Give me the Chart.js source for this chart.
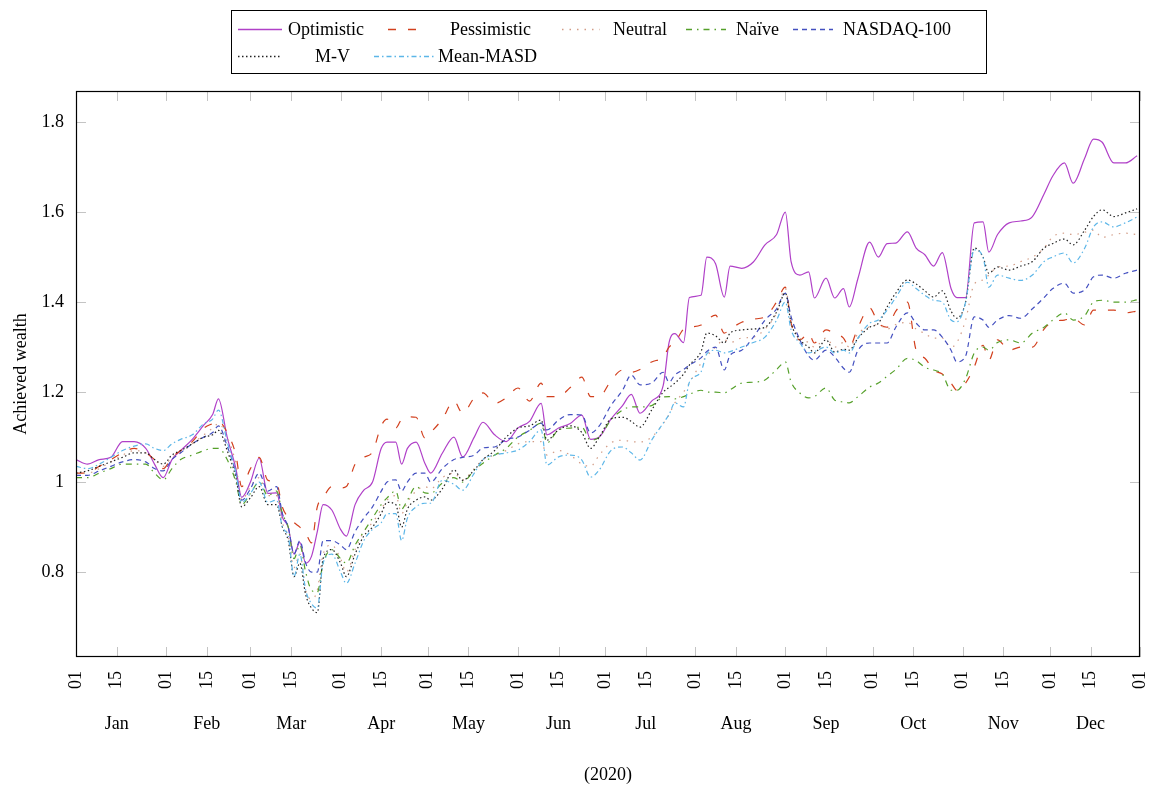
<!DOCTYPE html>
<html>
<head>
<meta charset="utf-8">
<title>Achieved wealth 2020</title>
<script src="https://cdn.jsdelivr.net/npm/chart.js@4"></script>
<style>
  body { margin: 0; background: #fff; }
  #wrap { position: relative; width: 1151px; height: 789px; }
</style>
</head>
<body>
<div id="wrap"><canvas id="wealth"></canvas></div>
<script>
// day of year (0 = Jan 01 2020)
var days = [0,4,8,12,16,20,24,27,30,33,
  36,40,44,47,49,52,55,57,60,63,
  66,69,71,73,75,77,79,81,83,85,
  88,91,93,96,99,102,105,107,110,112,
  114,117,120,122,126,130,133,137,140,144,
  148,152,156,160,162,166,170,174,177,180,
  184,188,191,194,198,202,204,206,209,211,
  215,217,220,223,225,229,233,237,241,244,
  246,249,252,254,258,261,264,266,269,273,
  276,279,282,286,289,292,295,298,301,303,
  306,309,312,314,317,321,325,329,333,336,
  340,343,347,350,353,357,361,365];

var optimistic = [1.05,1.04,1.05,1.055,1.09,1.09,1.075,1.04,1.01,1.05,
  1.07,1.095,1.127,1.15,1.185,1.10,1.03,0.966,1.00,1.053,
  0.975,0.976,0.922,0.90,0.84,0.866,0.82,0.835,0.89,0.95,
  0.938,0.895,0.88,0.95,0.982,1.00,1.075,1.089,1.089,1.04,
  1.075,1.089,1.042,1.02,1.064,1.10,1.056,1.10,1.133,1.105,
  1.09,1.12,1.135,1.175,1.105,1.12,1.13,1.149,1.095,1.10,
  1.14,1.17,1.195,1.153,1.18,1.215,1.31,1.33,1.31,1.41,
  1.415,1.50,1.485,1.411,1.48,1.475,1.489,1.527,1.55,1.60,
  1.489,1.46,1.467,1.409,1.453,1.409,1.43,1.389,1.453,1.533,
  1.50,1.53,1.531,1.556,1.52,1.505,1.48,1.51,1.43,1.41,
  1.41,1.576,1.578,1.511,1.55,1.576,1.58,1.59,1.64,1.68,
  1.709,1.664,1.72,1.762,1.755,1.709,1.709,1.725];

var pessimistic = [1.02,1.02,1.035,1.05,1.065,1.075,1.065,1.05,1.03,1.055,
  1.07,1.09,1.12,1.13,1.135,1.11,1.06,0.99,1.03,1.055,
  1.004,0.998,0.944,0.922,0.91,0.90,0.887,0.865,0.945,0.965,
  0.99,0.987,0.99,1.04,1.055,1.067,1.125,1.14,1.12,1.14,
  1.145,1.144,1.098,1.11,1.14,1.18,1.153,1.187,1.198,1.175,
  1.187,1.209,1.18,1.22,1.19,1.19,1.21,1.233,1.19,1.19,
  1.225,1.249,1.244,1.25,1.267,1.278,1.30,1.31,1.34,1.344,
  1.349,1.36,1.371,1.331,1.34,1.355,1.362,1.367,1.40,1.433,
  1.353,1.316,1.331,1.309,1.338,1.33,1.32,1.30,1.344,1.387,
  1.353,1.344,1.38,1.40,1.293,1.275,1.249,1.24,1.22,1.204,
  1.22,1.256,1.304,1.271,1.316,1.293,1.30,1.30,1.34,1.356,
  1.36,1.364,1.349,1.382,1.382,1.382,1.376,1.38];

var neutral = [1.02,1.02,1.03,1.045,1.06,1.07,1.065,1.05,1.035,1.055,
  1.065,1.085,1.105,1.12,1.13,1.10,1.04,0.96,0.99,1.01,
  0.97,0.97,0.91,0.88,0.81,0.84,0.76,0.74,0.76,0.84,
  0.86,0.83,0.80,0.85,0.89,0.91,0.94,0.96,0.97,0.93,
  0.955,0.98,0.99,0.985,1.01,1.02,1.005,1.03,1.05,1.06,
  1.07,1.085,1.09,1.09,1.06,1.07,1.06,1.04,1.035,1.06,
  1.087,1.093,1.09,1.089,1.10,1.13,1.15,1.176,1.20,1.22,
  1.264,1.28,1.30,1.316,1.31,1.32,1.322,1.34,1.376,1.43,
  1.36,1.32,1.31,1.30,1.32,1.30,1.31,1.30,1.33,1.345,
  1.35,1.34,1.35,1.355,1.34,1.33,1.32,1.32,1.30,1.31,
  1.36,1.44,1.449,1.46,1.478,1.48,1.49,1.50,1.52,1.545,
  1.553,1.55,1.555,1.56,1.544,1.55,1.553,1.55];

var naive = [1.01,1.01,1.02,1.03,1.04,1.04,1.04,1.02,1.005,1.03,
  1.05,1.06,1.07,1.075,1.075,1.05,1.00,0.95,0.975,1.00,
  0.97,0.98,0.93,0.90,0.83,0.86,0.80,0.76,0.755,0.82,
  0.85,0.83,0.82,0.86,0.89,0.92,0.95,0.965,0.98,0.94,
  0.96,0.99,0.976,0.975,0.998,1.01,1.00,1.027,1.042,1.06,
  1.075,1.10,1.115,1.131,1.087,1.116,1.12,1.122,1.093,1.10,
  1.138,1.16,1.167,1.167,1.17,1.189,1.19,1.185,1.19,1.195,
  1.204,1.20,1.20,1.198,1.205,1.22,1.222,1.227,1.25,1.267,
  1.222,1.198,1.187,1.19,1.209,1.182,1.178,1.176,1.19,1.211,
  1.22,1.235,1.25,1.275,1.27,1.255,1.249,1.24,1.204,1.204,
  1.23,1.287,1.30,1.293,1.31,1.316,1.309,1.331,1.344,1.36,
  1.376,1.36,1.37,1.40,1.404,1.40,1.40,1.405];

var nasdaq = [1.015,1.015,1.025,1.035,1.045,1.05,1.045,1.03,1.025,1.05,
  1.065,1.085,1.10,1.11,1.125,1.08,1.02,0.96,0.985,1.02,
  0.98,0.99,0.93,0.90,0.84,0.87,0.82,0.80,0.80,0.87,
  0.87,0.86,0.85,0.89,0.92,0.945,0.98,1.00,1.005,0.98,
  1.00,1.02,1.02,1.00,1.03,1.05,1.055,1.06,1.076,1.078,
  1.095,1.10,1.115,1.131,1.116,1.138,1.15,1.149,1.109,1.125,
  1.17,1.204,1.238,1.216,1.22,1.244,1.222,1.238,1.25,1.26,
  1.276,1.29,1.30,1.249,1.282,1.293,1.322,1.36,1.385,1.42,
  1.367,1.316,1.28,1.271,1.293,1.278,1.253,1.244,1.293,1.309,
  1.309,1.309,1.344,1.376,1.353,1.338,1.338,1.322,1.293,1.267,
  1.28,1.367,1.36,1.344,1.36,1.37,1.364,1.385,1.41,1.43,
  1.442,1.42,1.427,1.456,1.46,1.453,1.464,1.471];

var meanVar = [1.02,1.025,1.035,1.045,1.055,1.065,1.065,1.05,1.04,1.06,
  1.07,1.085,1.10,1.105,1.115,1.07,1.01,0.945,0.965,0.99,
  0.95,0.95,0.90,0.87,0.79,0.82,0.75,0.72,0.71,0.83,
  0.85,0.82,0.79,0.84,0.88,0.90,0.93,0.955,0.95,0.90,
  0.94,0.96,0.967,0.96,0.985,1.027,1.004,1.027,1.05,1.07,
  1.10,1.12,1.125,1.138,1.093,1.116,1.125,1.11,1.075,1.10,
  1.14,1.144,1.135,1.122,1.16,1.20,1.21,1.22,1.24,1.26,
  1.29,1.331,1.325,1.309,1.331,1.338,1.34,1.344,1.378,1.42,
  1.353,1.316,1.30,1.287,1.316,1.289,1.295,1.293,1.32,1.344,
  1.353,1.389,1.42,1.449,1.44,1.425,1.411,1.425,1.38,1.364,
  1.40,1.52,1.50,1.464,1.478,1.471,1.48,1.49,1.52,1.53,
  1.54,1.527,1.56,1.59,1.605,1.59,1.598,1.607];

var meanMasd = [1.035,1.03,1.04,1.055,1.07,1.08,1.085,1.075,1.07,1.085,
  1.095,1.105,1.13,1.14,1.16,1.09,1.02,0.955,0.975,1.00,
  0.955,0.96,0.90,0.88,0.79,0.84,0.76,0.73,0.72,0.82,
  0.84,0.80,0.775,0.82,0.87,0.895,0.91,0.93,0.93,0.87,
  0.92,0.945,0.953,0.953,1.004,0.995,0.982,1.02,1.05,1.06,
  1.065,1.071,1.09,1.116,1.038,1.056,1.06,1.049,1.011,1.027,
  1.07,1.078,1.065,1.049,1.093,1.131,1.15,1.176,1.167,1.222,
  1.245,1.285,1.293,1.287,1.29,1.30,1.31,1.322,1.36,1.40,
  1.338,1.309,1.287,1.29,1.30,1.287,1.293,1.287,1.32,1.353,
  1.36,1.382,1.41,1.444,1.43,1.415,1.404,1.40,1.36,1.356,
  1.40,1.516,1.50,1.433,1.46,1.453,1.448,1.46,1.49,1.50,
  1.509,1.487,1.52,1.567,1.578,1.567,1.576,1.589];

// tick positions / labels
var dayTicks = [0,14,31,45,60,74,91,105,121,135,152,166,182,196,213,227,244,258,274,288,305,319,335,349,366];
var dayLabels = ['01','15','01','15','01','15','01','15','01','15','01','15','01','15','01','15','01','15','01','15','01','15','01','15','01'];
var monthMid = [14,45,74,105,135,166,196,227,258,288,319,349];
var monthNames = ['Jan','Feb','Mar','Apr','May','Jun','Jul','Aug','Sep','Oct','Nov','Dec'];
var wealthTicks = [0.8,1,1.2,1.4,1.6,1.8];

var FONT = "'Liberation Serif', 'Times New Roman', serif";
Chart.defaults.font.family = FONT;
Chart.defaults.font.size = 18;
Chart.defaults.color = '#000';

function series(label, vals, color, dash, order){
  return {
    label: label,
    data: days.map(function(d, i){ return {x: d, y: vals[i]}; }),
    borderColor: color,
    backgroundColor: color,
    borderDash: dash,
    borderWidth: 1.2,
    pointRadius: 0,
    pointStyle: 'line',
    cubicInterpolationMode: 'monotone',
    fill: false,
    order: order
  };
}

// legend slots: sample line x1-x2, text x, row
var legendSlots = [
  {x1:238, x2:282, tx:288, row:0},
  {x1:388, x2:428, tx:450, row:0},
  {x1:562, x2:600, tx:613, row:0},
  {x1:686, x2:726, tx:736, row:0},
  {x1:793, x2:833, tx:843, row:0},
  {x1:238, x2:282, tx:315, row:1},
  {x1:374, x2:434, tx:438, row:1}
];

function noSidePad(s){ s.paddingLeft = 0; s.paddingRight = 0; }

var framePlugin = {
  id: 'frame',
  afterDatasetsDraw: function(chart){
    var ctx = chart.ctx, a = chart.chartArea;
    var xs = chart.scales.x, ys = chart.scales.y;
    ctx.save();
    // inward ticks
    ctx.strokeStyle = '#c4c4c4';
    ctx.lineWidth = 1;
    ctx.setLineDash([]);
    ctx.beginPath();
    dayTicks.forEach(function(d){
      var px = Math.round(xs.getPixelForValue(d)) + 0.5;
      ctx.moveTo(px, a.bottom); ctx.lineTo(px, a.bottom - 10);
      ctx.moveTo(px, a.top); ctx.lineTo(px, a.top + 10);
    });
    wealthTicks.forEach(function(v){
      var py = Math.round(ys.getPixelForValue(v)) + 0.5;
      ctx.moveTo(a.left, py); ctx.lineTo(a.left + 10, py);
      ctx.moveTo(a.right, py); ctx.lineTo(a.right - 10, py);
    });
    ctx.stroke();
    // axis box
    ctx.strokeStyle = '#000';
    ctx.lineWidth = 1.2;
    ctx.strokeRect(a.left + 0.5, a.top + 0.5, a.width - 1, a.height - 1);

    // legend box
    ctx.lineWidth = 1;
    ctx.strokeRect(231.5, 10.5, 755, 63);
    var rowY = [29, 56];
    ctx.font = '18px ' + FONT;
    ctx.textBaseline = 'middle';
    ctx.textAlign = 'left';
    chart.data.datasets.forEach(function(ds, i){
      var s = legendSlots[i], y = rowY[s.row];
      ctx.strokeStyle = ds.borderColor;
      ctx.lineWidth = 1.3;
      ctx.setLineDash(ds.borderDash || []);
      ctx.beginPath();
      ctx.moveTo(s.x1, y + 0.5); ctx.lineTo(s.x2, y + 0.5);
      ctx.stroke();
      ctx.setLineDash([]);
      ctx.fillStyle = '#000';
      ctx.fillText(ds.label, s.tx, y + 1);
    });
    ctx.restore();
  }
};

var ctx = document.getElementById('wealth').getContext('2d');
var wealthChart = new Chart(ctx, {
  type: 'line',
  data: {
    datasets: [
      series('Optimistic', optimistic, '#b040c8', [], 7),
      series('Pessimistic', pessimistic, '#d2401e', [8, 12], 6),
      series('Neutral', neutral, '#d29c86', [1.5, 6], 5),
      series('Na\u00efve', naive, '#55a02a', [6, 5, 1.5, 5], 4),
      series('NASDAQ-100', nasdaq, '#4450c0', [5, 4], 3),
      series('M-V', meanVar, '#222222', [1.5, 2.5], 2),
      series('Mean-MASD', meanMasd, '#5cb6e8', [5, 3, 1.5, 3], 1)
    ]
  },
  options: {
    responsive: true,
    maintainAspectRatio: false,
    animation: false,
    layout: { padding: { top: 91, right: 11, left: 0, bottom: 0 } },
    plugins: { legend: { display: false }, tooltip: { enabled: false } },
    scales: {
      x: {
        type: 'linear', position: 'bottom', min: 0, max: 366,
        grid: { display: false, drawTicks: false },
        border: { display: false },
        afterBuildTicks: function(s){ s.ticks = dayTicks.map(function(v){ return {value: v}; }); },
        ticks: {
          autoSkip: false, minRotation: 90, maxRotation: 90, padding: 14,
          callback: function(v){ return dayLabels[dayTicks.indexOf(v)]; }
        },
        afterFit: function(s){ s.height = 50; noSidePad(s); }
      },
      x2: {
        type: 'linear', position: 'bottom', min: 0, max: 366,
        grid: { display: false, drawTicks: false },
        border: { display: false },
        afterBuildTicks: function(s){ s.ticks = monthMid.map(function(v){ return {value: v}; }); },
        ticks: {
          autoSkip: false, minRotation: 0, maxRotation: 0, padding: 6,
          callback: function(v){ return monthNames[monthMid.indexOf(v)]; }
        },
        title: { display: true, text: '(2020)', padding: { top: 0, bottom: 3 } },
        afterFit: function(s){ s.height = 82; noSidePad(s); }
      },
      y: {
        min: 0.6114, max: 1.8689,
        grid: { display: false, drawTicks: false },
        border: { display: false },
        afterBuildTicks: function(s){ s.ticks = wealthTicks.map(function(v){ return {value: v}; }); },
        ticks: { padding: 12, callback: function(v){ return String(Math.round(v * 10) / 10); } },
        title: { display: true, text: 'Achieved wealth', padding: { top: 10, bottom: 0 } },
        afterFit: function(s){ s.width = 76; s.paddingTop = 0; s.paddingBottom = 0; }
      }
    }
  },
  plugins: [framePlugin]
});
</script>
</body>
</html>
